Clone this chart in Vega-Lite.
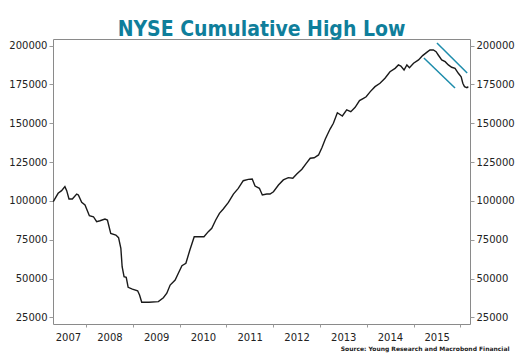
{
  "$schema": "https://vega.github.io/schema/vega-lite/v6.json",
  "width": 417,
  "height": 285,
  "autosize": "none",
  "padding": {"left": 53, "top": 39, "right": 50, "bottom": 33},
  "background": "white",
  "title": {
    "text": "NYSE Cumulative High Low",
    "font": "DejaVu Sans Condensed, Liberation Sans Narrow, sans-serif",
    "fontSize": 21,
    "fontWeight": "bold",
    "color": "#0f7e9b",
    "anchor": "middle",
    "baseline": "alphabetic",
    "offset": -18
  },
  "config": {
    "view": {"stroke": "#8a8a8a", "strokeWidth": 1},
    "axis": {
      "labelFont": "DejaVu Sans",
      "labelFontSize": 10,
      "labelColor": "#222222",
      "tickColor": "#9a9a9a",
      "domain": false,
      "grid": false
    }
  },
  "datasets": {
    "nyse": [
      {"date": "2007-04-19", "value": 99500},
      {"date": "2007-05-27", "value": 104900},
      {"date": "2007-06-23", "value": 106600},
      {"date": "2007-07-19", "value": 109200},
      {"date": "2007-08-02", "value": 106600},
      {"date": "2007-08-20", "value": 101200},
      {"date": "2007-09-15", "value": 101200},
      {"date": "2007-10-19", "value": 104400},
      {"date": "2007-11-01", "value": 103800},
      {"date": "2007-11-27", "value": 99100},
      {"date": "2007-12-23", "value": 97400},
      {"date": "2008-01-26", "value": 90500},
      {"date": "2008-02-27", "value": 89800},
      {"date": "2008-03-23", "value": 86600},
      {"date": "2008-04-18", "value": 87200},
      {"date": "2008-05-27", "value": 88300},
      {"date": "2008-06-15", "value": 87700},
      {"date": "2008-07-11", "value": 79100},
      {"date": "2008-08-20", "value": 78000},
      {"date": "2008-09-10", "value": 76300},
      {"date": "2008-09-28", "value": 69500},
      {"date": "2008-10-08", "value": 57600},
      {"date": "2008-10-23", "value": 51200},
      {"date": "2008-11-09", "value": 50800},
      {"date": "2008-11-24", "value": 44300},
      {"date": "2008-12-27", "value": 43200},
      {"date": "2009-02-06", "value": 42100},
      {"date": "2009-02-21", "value": 39400},
      {"date": "2009-03-10", "value": 34700},
      {"date": "2009-05-06", "value": 34700},
      {"date": "2009-07-18", "value": 35100},
      {"date": "2009-08-26", "value": 37600},
      {"date": "2009-09-22", "value": 40500},
      {"date": "2009-10-18", "value": 45800},
      {"date": "2009-11-26", "value": 49000},
      {"date": "2009-12-21", "value": 53400},
      {"date": "2010-01-18", "value": 58300},
      {"date": "2010-02-18", "value": 59800},
      {"date": "2010-03-21", "value": 68400},
      {"date": "2010-04-24", "value": 76900},
      {"date": "2010-05-25", "value": 76900},
      {"date": "2010-07-09", "value": 76900},
      {"date": "2010-08-12", "value": 80200},
      {"date": "2010-09-08", "value": 82400},
      {"date": "2010-10-09", "value": 87700},
      {"date": "2010-11-07", "value": 92000},
      {"date": "2010-12-07", "value": 94800},
      {"date": "2011-01-16", "value": 99000},
      {"date": "2011-02-24", "value": 104400},
      {"date": "2011-04-03", "value": 108100},
      {"date": "2011-05-12", "value": 113000},
      {"date": "2011-06-20", "value": 113900},
      {"date": "2011-07-21", "value": 114100},
      {"date": "2011-08-12", "value": 109600},
      {"date": "2011-09-15", "value": 108100},
      {"date": "2011-10-08", "value": 103800},
      {"date": "2011-11-12", "value": 104400},
      {"date": "2011-12-07", "value": 104400},
      {"date": "2012-01-03", "value": 105900},
      {"date": "2012-02-11", "value": 110200},
      {"date": "2012-03-20", "value": 113500},
      {"date": "2012-04-28", "value": 115000},
      {"date": "2012-06-02", "value": 114600},
      {"date": "2012-07-03", "value": 117300},
      {"date": "2012-08-12", "value": 120400},
      {"date": "2012-09-15", "value": 124200},
      {"date": "2012-10-16", "value": 127500},
      {"date": "2012-11-16", "value": 127800},
      {"date": "2012-12-20", "value": 129600},
      {"date": "2013-01-16", "value": 134400},
      {"date": "2013-02-11", "value": 139900},
      {"date": "2013-03-20", "value": 146300},
      {"date": "2013-04-15", "value": 150000},
      {"date": "2013-05-16", "value": 156800},
      {"date": "2013-06-24", "value": 154700},
      {"date": "2013-07-28", "value": 158600},
      {"date": "2013-08-29", "value": 157500},
      {"date": "2013-10-02", "value": 160300},
      {"date": "2013-11-05", "value": 164600},
      {"date": "2013-12-06", "value": 166100},
      {"date": "2013-12-27", "value": 167100},
      {"date": "2014-01-28", "value": 170400},
      {"date": "2014-03-06", "value": 173600},
      {"date": "2014-04-14", "value": 175800},
      {"date": "2014-05-23", "value": 179000},
      {"date": "2014-07-01", "value": 183200},
      {"date": "2014-08-10", "value": 185400},
      {"date": "2014-09-05", "value": 187600},
      {"date": "2014-09-24", "value": 186900},
      {"date": "2014-10-19", "value": 184300},
      {"date": "2014-11-10", "value": 187600},
      {"date": "2014-11-30", "value": 185800},
      {"date": "2015-01-01", "value": 188700},
      {"date": "2015-02-09", "value": 190800},
      {"date": "2015-03-13", "value": 193600},
      {"date": "2015-04-14", "value": 195700},
      {"date": "2015-05-09", "value": 197200},
      {"date": "2015-06-05", "value": 197200},
      {"date": "2015-06-26", "value": 196100},
      {"date": "2015-07-13", "value": 194000},
      {"date": "2015-08-09", "value": 190800},
      {"date": "2015-09-05", "value": 189700},
      {"date": "2015-09-30", "value": 187600},
      {"date": "2015-10-26", "value": 186100},
      {"date": "2015-11-21", "value": 185400},
      {"date": "2015-12-17", "value": 182200},
      {"date": "2016-01-08", "value": 180000},
      {"date": "2016-01-21", "value": 175800},
      {"date": "2016-02-03", "value": 173600},
      {"date": "2016-02-22", "value": 172900},
      {"date": "2016-03-04", "value": 173600}
    ],
    "trend": [
      {"start": "2015-07-03", "end": "2016-02-24", "v1": 201700, "v2": 182400},
      {"start": "2015-03-23", "end": "2015-11-21", "v1": 192100, "v2": 172700}
    ]
  },
  "layer": [
    {
      "data": {"name": "nyse"},
      "mark": {"type": "line", "color": "#1a1a1a", "strokeWidth": 1.4, "interpolate": "linear"},
      "encoding": {
        "x": {
          "field": "date",
          "type": "temporal",
          "scale": {"domain": [{"year": 2007, "month": 4, "date": 17}, {"year": 2016, "month": 3, "date": 17}]},
          "axis": {
            "orient": "bottom",
            "values": [
              {"year": 2008, "month": 1, "date": 1},
              {"year": 2009, "month": 1, "date": 1},
              {"year": 2010, "month": 1, "date": 1},
              {"year": 2011, "month": 1, "date": 1},
              {"year": 2012, "month": 1, "date": 1},
              {"year": 2013, "month": 1, "date": 1},
              {"year": 2014, "month": 1, "date": 1},
              {"year": 2015, "month": 1, "date": 1},
              {"year": 2016, "month": 1, "date": 1}
            ],
            "labels": false,
            "tickSize": 3,
            "title": null
          }
        },
        "y": {
          "field": "value",
          "type": "quantitative",
          "scale": {"domain": [20700, 204300], "nice": false, "zero": false},
          "axis": {
            "orient": "left",
            "values": [25000, 50000, 75000, 100000, 125000, 150000, 175000, 200000],
            "format": "d",
            "tickSize": 4,
            "labelPadding": 2,
            "title": null
          }
        }
      }
    },
    {
      "data": {"name": "trend"},
      "mark": {"type": "rule", "color": "#1c8cab", "strokeWidth": 1.5},
      "encoding": {
        "x": {
          "field": "start",
          "type": "temporal",
          "axis": {
            "orient": "bottom",
            "values": [
              {"year": 2007, "month": 8, "date": 12},
              {"year": 2008, "month": 7, "date": 1},
              {"year": 2009, "month": 7, "date": 1},
              {"year": 2010, "month": 7, "date": 1},
              {"year": 2011, "month": 7, "date": 1},
              {"year": 2012, "month": 7, "date": 1},
              {"year": 2013, "month": 7, "date": 1},
              {"year": 2014, "month": 7, "date": 1},
              {"year": 2015, "month": 7, "date": 1}
            ],
            "format": "%Y",
            "ticks": false,
            "tickSize": 0,
            "labelPadding": 8,
            "title": "Source: Young Research and Macrobond Financial",
            "titleX": 456,
            "titleY": 24,
            "titleAlign": "right",
            "titleAnchor": "end",
            "titleBaseline": "middle",
            "titleFont": "DejaVu Sans",
            "titleFontSize": 6,
            "titleFontWeight": "bold",
            "titleColor": "#222222"
          }
        },
        "x2": {"field": "end"},
        "y": {
          "field": "v1",
          "type": "quantitative",
          "axis": {
            "orient": "right",
            "values": [25000, 50000, 75000, 100000, 125000, 150000, 175000, 200000],
            "format": "d",
            "tickSize": 4,
            "labelPadding": 2,
            "title": null
          }
        },
        "y2": {"field": "v2"}
      }
    }
  ],
  "resolve": {"axis": {"x": "independent", "y": "independent"}}
}
